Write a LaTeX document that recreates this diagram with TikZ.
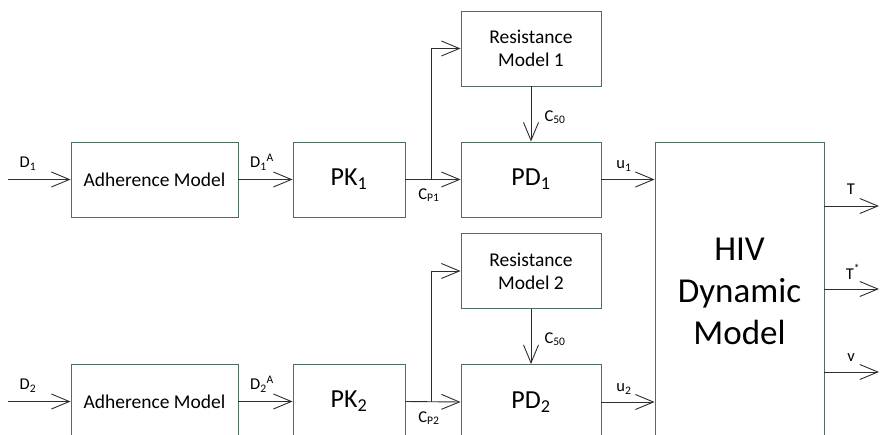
\documentclass[tikz,border=0pt]{standalone}
\usepackage{fontspec}
\setmainfont{Carlito}
\usetikzlibrary{arrows.meta,calc}
\definecolor{boxc}{RGB}{80,110,92}
\definecolor{linec}{RGB}{45,45,45}
\tikzset{
  blk/.style={draw=boxc, line width=0.9pt, rectangle, inner sep=0pt, align=center, fill=white},
  smallbox/.style={blk, font=\fontsize{19.5}{23}\selectfont},
  bigbox/.style={blk, font=\fontsize{26}{30}\selectfont},
  arr/.style={draw=linec, line width=0.9pt, -{Straight Barb[length=18pt,width=15pt,line width=0.9pt]}},
  lbl/.style={font=\fontsize{16.5}{18}\selectfont, inner sep=0pt}
}
\begin{document}
\begin{tikzpicture}[x=1pt,y=-1pt]
\useasboundingbox (0,0) rectangle (880,435);
\clip (0,0) rectangle (880,435);
% top row
\node[smallbox, minimum width=167, minimum height=75] (adh1) at (154.5,179.5) {Adherence Model};
\node[bigbox, minimum width=112, minimum height=75] (pk1) at (349,179.5) {PK\textsubscript{1}};
\node[smallbox, minimum width=140, minimum height=75] (res1) at (531,48.5) {Resistance\\Model 1};
\node[bigbox, minimum width=140, minimum height=75] (pd1) at (531,179.5) {PD\textsubscript{1}};
% bottom row
\node[smallbox, minimum width=167, minimum height=75] (adh2) at (154.5,401.5) {Adherence Model};
\node[bigbox, minimum width=112, minimum height=75] (pk2) at (349,401.5) {PK\textsubscript{2}};
\node[smallbox, minimum width=140, minimum height=75] (res2) at (531,271) {Resistance\\Model 2};
\node[bigbox, minimum width=140, minimum height=75] (pd2) at (531,402) {PD\textsubscript{2}};
% HIV model
\node[blk, font=\fontsize{35}{42}\selectfont, minimum width=169, minimum height=298] (hiv) at (739.5,291) {HIV\\Dynamic\\Model};
% free ends
\coordinate (in1) at (8,179.5);
\coordinate (in2) at (8,401.5);
\coordinate (oT) at (879,206);
\coordinate (oTs) at (879,289);
\coordinate (ov) at (879,372);
\coordinate (bp1) at ($(pk1.east)!0.48!(pd1.west)$);
\coordinate (bp2) at ($(pk2.east)!0.48!(pd2.west)$);
% connectors top
\draw[arr] (in1) -- (adh1.west);
\draw[arr] (adh1.east) -- (pk1.west);
\draw[arr] (pk1.east) -- (pd1.west);
\draw[arr] (bp1) |- (res1.west);
\draw[arr] (res1.south) -- (pd1.north);
\draw[arr] (pd1.east) -- (hiv.west |- pd1.east);
% connectors bottom
\draw[arr] (in2) -- (adh2.west);
\draw[arr] (adh2.east) -- (pk2.west);
\draw[arr] (pk2.east) -- (pd2.west);
\draw[arr] (bp2) |- (res2.west);
\draw[arr] (res2.south) -- (pd2.north);
\draw[arr] (pd2.east) -- (hiv.west |- pd2.east);
% outputs
\draw[arr] (hiv.east |- oT) -- (oT);
\draw[arr] (hiv.east |- oTs) -- (oTs);
\draw[arr] (hiv.east |- ov) -- (ov);
% labels
\node[lbl] (lD1) at (28,164) {D\textsubscript{1}};
\node[lbl] (lD1A) at (262,162) {D\textsubscript{1}\textsuperscript{A}};
\node[lbl] (lCP1) at (429,195) {C\textsubscript{P1}};
\node[lbl] (lC501) at (555,117) {C\textsubscript{50}};
\node[lbl] (lu1) at (624,166) {u\textsubscript{1}};
\node[lbl] (lD2) at (28,386) {D\textsubscript{2}};
\node[lbl] (lD2A) at (262,384) {D\textsubscript{2}\textsuperscript{A}};
\node[lbl] (lCP2) at (429,418) {C\textsubscript{P2}};
\node[lbl] (lC502) at (555,339) {C\textsubscript{50}};
\node[lbl] (lu2) at (624,389) {u\textsubscript{2}};
\node[lbl] (lT) at (851,189) {T};
\node[lbl] (lTs) at (853,272) {T\textsuperscript{*}};
\node[lbl] (lv) at (851,358) {v};
\end{tikzpicture}
\end{document}
